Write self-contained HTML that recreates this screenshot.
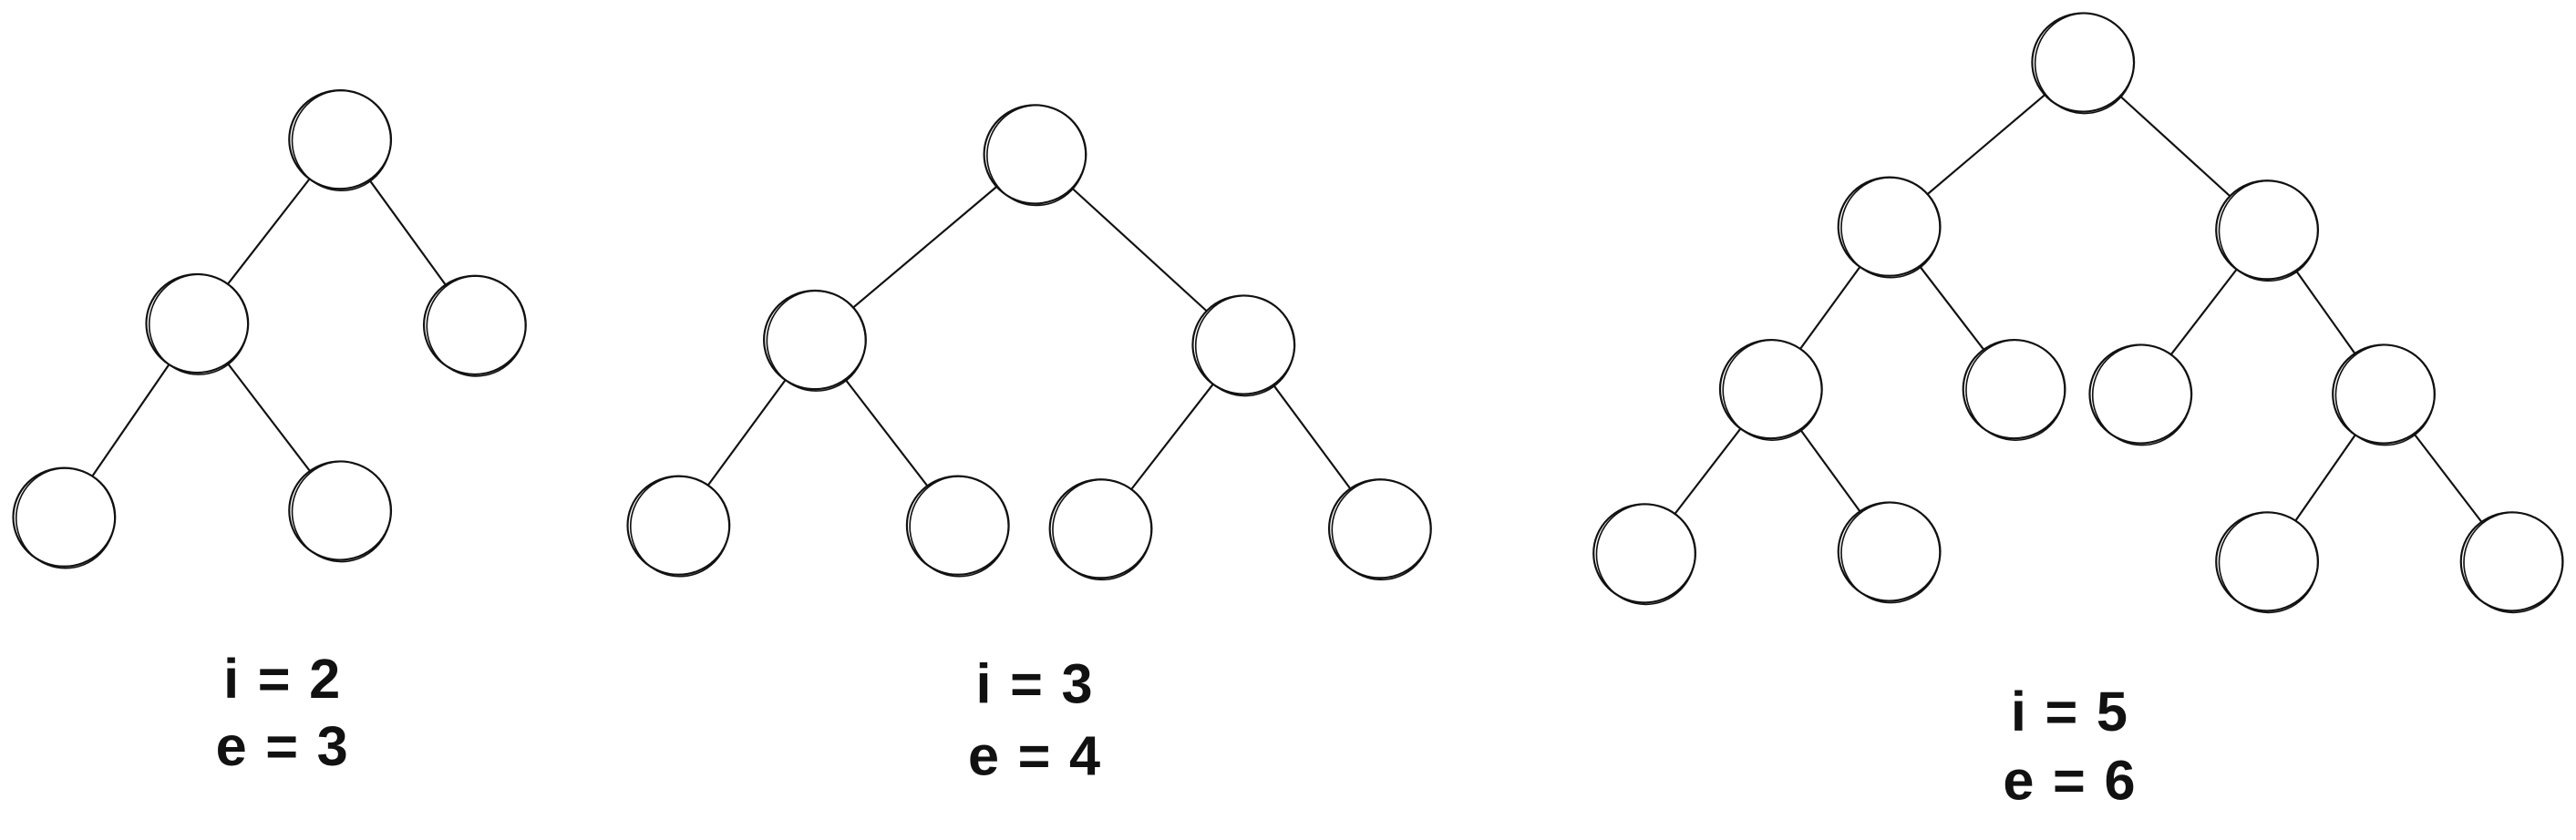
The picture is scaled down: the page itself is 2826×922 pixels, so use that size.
<!DOCTYPE html>
<html><head><meta charset="utf-8">
<style>
html,body{margin:0;padding:0;background:#fff;}
svg{display:block;}
text{font-family:"Liberation Sans",sans-serif;font-size:34px;font-weight:bold;fill:#111;letter-spacing:1px;}
</style></head>
<body>
<svg id="c" width="2826" height="922" viewBox="0 0 1568 511.6"></svg>
<script>
const trees = [
  {nodes:[[207,85],[120,197],[289,198],[39,315],[207,311]],
   edges:[[0,1],[0,2],[1,3],[1,4]], labels:["i = 2","e = 3"], lx:172, ly:[425,466]},
  {nodes:[[630,94],[496,207],[757,210],[413,320],[583,320],[670,322],[840,322]],
   edges:[[0,1],[0,2],[1,3],[1,4],[2,5],[2,6]], labels:["i = 3","e = 4"], lx:630, ly:[428,472]},
  {nodes:[[1268,38],[1150,138],[1380,140],[1078,237],[1226,237],[1303,240],[1451,240],[1001,337],[1150,336],[1380,342],[1529,342]],
   edges:[[0,1],[0,2],[1,3],[1,4],[2,5],[2,6],[3,7],[3,8],[6,9],[6,10]], labels:["i = 5","e = 6"], lx:1260, ly:[445,487]}
];
const R = 30;
const svg = document.getElementById('c');
const NS = 'http://www.w3.org/2000/svg';
function mk(tag, attrs){const e=document.createElementNS(NS,tag);for(const k in attrs)e.setAttribute(k,attrs[k]);svg.appendChild(e);return e;}
trees.forEach((t,ti)=>{
  t.edges.forEach(([a,b],ei)=>{
    const [x1,y1]=t.nodes[a],[x2,y2]=t.nodes[b];
    const d=Math.hypot(x2-x1,y2-y1),ux=(x2-x1)/d,uy=(y2-y1)/d;
    const l=mk('line',{x1:x1+ux*R,y1:y1+uy*R,x2:x2-ux*R,y2:y2-uy*R,stroke:'#111','stroke-width':1.2});
    
    
  });
  t.nodes.forEach(([x,y],ni)=>{
    const c=mk('ellipse',{cx:x,cy:y,rx:R+1,ry:R,fill:'none',stroke:'#111','stroke-width':1.2});
    
    
    const c2=mk('ellipse',{cx:x+0.8,cy:y+0.6,rx:R,ry:R+0.5,fill:'none',stroke:'#111','stroke-width':0.9});
    
    
  });
  t.labels.forEach((s,li)=>{
    const tx=mk('text',{x:t.lx,y:t.ly[li],'text-anchor':'middle'});
    tx.textContent=s;
    
    
  });
});
</script>
</body></html>
